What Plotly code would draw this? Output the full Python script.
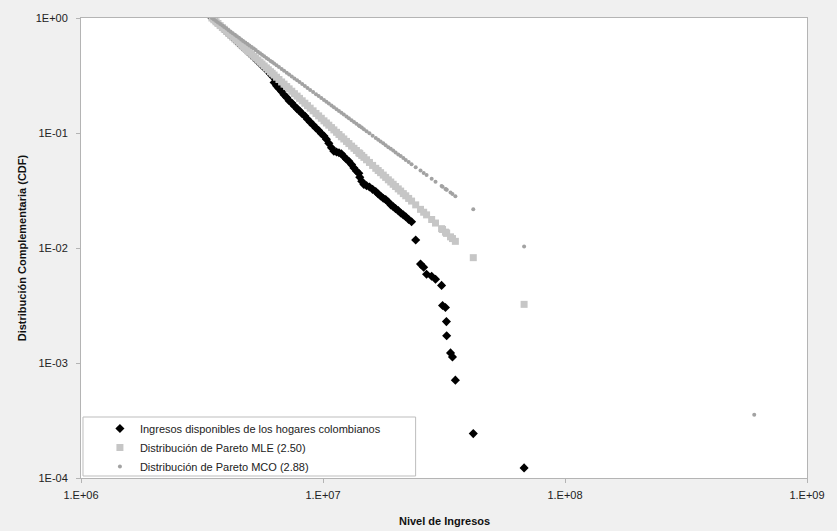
import numpy as np
import plotly.graph_objects as go

# Values (log10 units)
log_ingreso = [
    6.541, 6.549, 6.558, 6.566, 6.575, 6.584, 6.592, 6.601, 6.610, 6.618,
    6.627, 6.636, 6.644, 6.653, 6.662, 6.670, 6.679, 6.688, 6.696, 6.705,
    6.714, 6.722, 6.731, 6.740, 6.748, 6.757, 6.766, 6.774, 6.783, 6.790,
    6.798, 6.808, 6.818, 6.829, 6.839, 6.850, 6.860, 6.871, 6.882, 6.893,
    6.903, 6.914, 6.925, 6.936, 6.947, 6.959, 6.971, 6.982, 6.993, 7.004,
    7.014, 7.024, 7.035, 7.045, 7.056, 7.066, 7.076, 7.086, 7.097, 7.107,
    7.118, 7.128, 7.138, 7.148, 7.152, 7.160, 7.169, 7.180, 7.192, 7.205,
    7.218, 7.228, 7.238, 7.249, 7.259, 7.270, 7.280, 7.290, 7.300, 7.311,
    7.321, 7.332, 7.342, 7.354, 7.366,
    7.383, 7.403, 7.416, 7.428, 7.449, 7.465, 7.490, 7.494, 7.506, 7.510,
    7.511, 7.527, 7.535, 7.547, 7.621, 7.831, 8.782,
]

log_ccdf_hogares = [
    0.000, -0.015, -0.034, -0.049, -0.067, -0.085, -0.100, -0.118, -0.136, -0.152,
    -0.169, -0.187, -0.203, -0.221, -0.239, -0.255, -0.272, -0.291, -0.306, -0.325,
    -0.342, -0.358, -0.377, -0.395, -0.412, -0.430, -0.448, -0.466, -0.487, -0.505,
    -0.561, -0.590, -0.612, -0.640, -0.668, -0.692, -0.719, -0.740, -0.765, -0.790,
    -0.808, -0.833, -0.852, -0.880, -0.905, -0.930, -0.956, -0.978, -1.004, -1.026,
    -1.055, -1.090, -1.128, -1.158, -1.165, -1.172, -1.180, -1.205, -1.228, -1.246,
    -1.275, -1.305, -1.330, -1.351, -1.385, -1.420, -1.447, -1.458, -1.470, -1.490,
    -1.509, -1.530, -1.548, -1.568, -1.579, -1.600, -1.625, -1.640, -1.658, -1.675,
    -1.695, -1.712, -1.728, -1.752, -1.772,
    -1.930, -2.140, -2.167, -2.228, -2.246, -2.272, -2.325, -2.500, -2.518, -2.640,
    -2.763, -2.912, -2.947, -3.149, -3.614, -3.912, None,
]

log_ccdf_mle = [
    0.000, -0.015, -0.033, -0.048, -0.066, -0.083, -0.098, -0.116, -0.133, -0.149,
    -0.166, -0.183, -0.199, -0.216, -0.234, -0.249, -0.266, -0.284, -0.299, -0.317,
    -0.334, -0.349, -0.367, -0.384, -0.400, -0.417, -0.434, -0.450, -0.467, -0.481,
    -0.496, -0.515, -0.535, -0.556, -0.575, -0.596, -0.616, -0.637, -0.658, -0.679,
    -0.699, -0.720, -0.741, -0.762, -0.784, -0.807, -0.830, -0.851, -0.872, -0.894,
    -0.913, -0.932, -0.953, -0.973, -0.994, -1.013, -1.033, -1.052, -1.073, -1.092,
    -1.114, -1.133, -1.152, -1.172, -1.179, -1.195, -1.212, -1.233, -1.256, -1.282,
    -1.307, -1.326, -1.345, -1.366, -1.386, -1.407, -1.426, -1.446, -1.465, -1.486,
    -1.505, -1.527, -1.546, -1.569, -1.592,
    -1.625, -1.664, -1.689, -1.712, -1.752, -1.783, -1.832, -1.839, -1.862, -1.870,
    -1.872, -1.903, -1.918, -1.942, -2.084, -2.490, -4.325,
]

log_ccdf_mco = [
    0.000, -0.012, -0.026, -0.039, -0.052, -0.066, -0.079, -0.092, -0.106, -0.119,
    -0.132, -0.146, -0.159, -0.172, -0.186, -0.199, -0.213, -0.226, -0.239, -0.253,
    -0.266, -0.279, -0.293, -0.306, -0.319, -0.333, -0.347, -0.359, -0.373, -0.383,
    -0.396, -0.411, -0.427, -0.444, -0.459, -0.476, -0.491, -0.508, -0.525, -0.542,
    -0.557, -0.574, -0.591, -0.608, -0.625, -0.644, -0.662, -0.679, -0.696, -0.713,
    -0.728, -0.744, -0.761, -0.776, -0.793, -0.809, -0.824, -0.839, -0.856, -0.872,
    -0.889, -0.904, -0.919, -0.935, -0.941, -0.953, -0.967, -0.984, -1.003, -1.023,
    -1.043, -1.058, -1.073, -1.090, -1.106, -1.123, -1.138, -1.153, -1.169, -1.186,
    -1.201, -1.218, -1.234, -1.252, -1.271,
    -1.297, -1.327, -1.348, -1.366, -1.398, -1.423, -1.461, -1.468, -1.486, -1.492,
    -1.494, -1.518, -1.531, -1.549, -1.663, -1.987, -3.451,
]

series_names = [
    "Ingresos disponibles de los hogares colombianos",
    "Distribución de Pareto MLE (2.50)",
    "Distribución de Pareto MCO (2.88)",
]
x_tickvals = [1e6, 1e7, 1e8, 1e9]
x_ticktext = ["1.E+06", "1.E+07", "1.E+08", "1.E+09"]
y_tickvals = [1, 1e-1, 1e-2, 1e-3, 1e-4]
y_ticktext = ["1E+00", "1E-01", "1E-02", "1E-03", "1E-04"]


def unlog(vals):
    return [None if v is None else 10 ** v for v in vals]


ingreso = unlog(log_ingreso)

FONT = "Liberation Sans, Arial, sans-serif"

fig = go.Figure()
fig.add_trace(go.Scatter(
    x=ingreso, y=unlog(log_ccdf_hogares), mode="markers", name=series_names[0],
    marker=dict(symbol="diamond", size=7, color="#000000", line=dict(width=0)),
))
fig.add_trace(go.Scatter(
    x=ingreso, y=unlog(log_ccdf_mle), mode="markers", name=series_names[1],
    marker=dict(symbol="square", size=7, color="#c6c6c6", line=dict(width=0)),
))
fig.add_trace(go.Scatter(
    x=ingreso, y=unlog(log_ccdf_mco), mode="markers", name=series_names[2],
    marker=dict(symbol="circle", size=4, color="#a2a2a2", line=dict(width=0)),
))

L, R, T, B = 81, 27, 18, 53
W, H = 837, 531
pw, ph = W - L - R, H - T - B

fig.update_layout(
    width=W, height=H,
    margin=dict(l=L, r=R, t=T, b=B),
    paper_bgcolor="#f0f0f0",
    plot_bgcolor="#ffffff",
    font=dict(family=FONT, size=11, color="#222222"),
    showlegend=True,
    legend=dict(
        x=(100 - L) / pw, y=(H - B - 414) / ph, xanchor="left", yanchor="top",
        bgcolor="rgba(0,0,0,0)", borderwidth=0,
        font=dict(family=FONT, size=11, color="#222222"),
        itemsizing="trace",
    ),
    xaxis=dict(
        type="log", range=[6, 9], tickvals=x_tickvals, ticktext=x_ticktext,
        showgrid=False, zeroline=False, showline=True, mirror=True,
        linecolor="#b4b4b4", linewidth=1, ticks="outside", ticklen=4,
        tickcolor="#b4b4b4", ticklabelstandoff=3,
    ),
    yaxis=dict(
        type="log", range=[-4, 0], tickvals=y_tickvals, ticktext=y_ticktext,
        showgrid=False, zeroline=False, showline=True, mirror=True,
        linecolor="#b4b4b4", linewidth=1, ticks="outside", ticklen=4,
        tickcolor="#b4b4b4", ticklabelstandoff=6,
    ),
    shapes=[dict(
        type="rect", xref="paper", yref="paper",
        x0=(83 - L) / pw, x1=(417 - L) / pw,
        y0=(H - B - 476) / ph, y1=(H - B - 417) / ph,
        line=dict(color="#bdbdbd", width=1), fillcolor="#ffffff", layer="below",
    )],
    annotations=[
        dict(text="<b>Nivel de Ingresos</b>", xref="paper", yref="paper",
             x=0.5, y=(H - B - 521) / ph, xanchor="center", yanchor="middle",
             showarrow=False, font=dict(family=FONT, size=11, color="#111111")),
        dict(text="<b>Distribución Complementaria (CDF)</b>", xref="paper", yref="paper",
             x=(22 - L) / pw, y=0.5, xanchor="center", yanchor="middle",
             textangle=-90, showarrow=False,
             font=dict(family=FONT, size=11, color="#111111")),
    ],
)

fig.write_html("out.html", config={"displayModeBar": False},
               post_script="document.body.style.margin='0px';")
